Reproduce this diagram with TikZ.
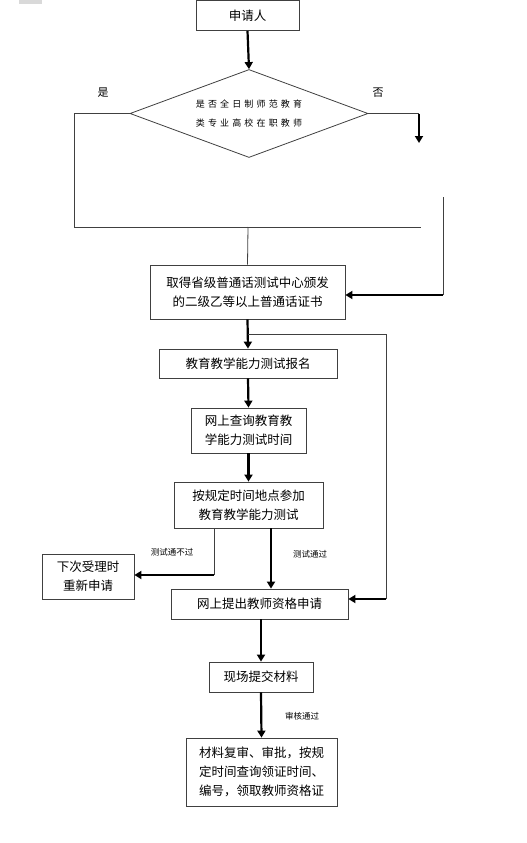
\documentclass[tikz,border=0pt]{standalone}
\usepackage{fontspec}
\setmainfont{Noto Sans CJK SC}
\newfontfamily\dfont[LetterSpace=35]{Noto Sans CJK SC}
\usetikzlibrary{arrows.meta,shapes.geometric}
\begin{document}
\begin{tikzpicture}[x=1pt,y=-1pt,
  box/.style={draw=black!75,line width=0.8pt,fill=white,inner sep=0pt,align=center,font=\fontsize{12.5}{19}\selectfont},
  thin/.style={draw=black!75,line width=0.8pt},
  arr/.style={draw=black,line width=2.2pt,-{Triangle[length=7pt,width=8pt]}},
  lab/.style={font=\fontsize{8.5}{10}\selectfont,inner sep=0pt},
  yn/.style={font=\fontsize{11}{12}\selectfont,inner sep=0pt}]
\useasboundingbox (0,0) rectangle (527,843);
\fill[gray!30] (19,0) rectangle (42,4);
% nodes
\node[box,minimum width=103pt,minimum height=30pt] (b1) at (247.5,15.5) {申请人};
\node[draw=black!75,line width=0.8pt,shape=diamond,shape aspect=2.7,minimum width=238pt,minimum height=88pt,inner sep=0pt,align=center,font=\dfont\fontsize{9}{19}\selectfont] (d) at (249,113.5) {是否全日制师范教育\\类专业高校在职教师};
\node[box,minimum width=195pt,minimum height=54pt] (b2) at (247.5,292) {取得省级普通话测试中心颁发\\的二级乙等以上普通话证书};
\node[box,minimum width=178pt,minimum height=29pt] (b3) at (248,363.5) {教育教学能力测试报名};
\node[box,minimum width=115pt,minimum height=45pt] (b4) at (248.5,430.5) {网上查询教育教\\学能力测试时间};
\node[box,minimum width=149pt,minimum height=46pt] (b5) at (248.5,505) {按规定时间地点参加\\教育教学能力测试};
\node[box,minimum width=92pt,minimum height=45pt] (b6) at (88,576.5) {下次受理时\\重新申请};
\node[box,minimum width=177pt,minimum height=30pt] (b7) at (259.5,604) {网上提出教师资格申请};
\node[box,minimum width=104pt,minimum height=30pt] (b8) at (261,677) {现场提交材料};
\node[box,minimum width=151pt,minimum height=68pt] (b9) at (261.5,772) {材料复审、审批，按规\\定时间查询领证时间、\\编号，领取教师资格证};
% labels
\node[yn] (yes) at (103,93) {是};
\node[yn] (no) at (378,93) {否};
\node[lab] (l1) at (172,552) {测试通不过};
\node[lab] (l2) at (310,554) {测试通过};
\node[lab] (l3) at (302,716) {审核通过};
% coordinates
\coordinate (yl) at (74,113.5);
\coordinate (yb) at (74,227);
\coordinate (hr) at (421,227);
\coordinate (hm) at (248,227);
\coordinate (nr) at (419,113.5);
\coordinate (nd) at (419,143);
\coordinate (rt) at (443,197);
\coordinate (rb) at (443,295);
\coordinate (sp) at (248,334);
\coordinate (sr) at (386,334);
\coordinate (sb) at (386,599);
\coordinate (f1) at (214,528);
\coordinate (f2) at (214,575);
\coordinate (p1) at (271,528);
% connectors
\draw[arr] (b1.south) -- (d.north);
\draw[thin] (d.west) -- (yl) -- (yb) -- (hr);
\draw[thin] (hm) -- (b2.north);
\draw[thin] (d.east) -- (nr);
\draw[arr] (nr) -- (nd);
\draw[thin] (rt) -- (rb);
\draw[arr] (rb) -- (rb -| b2.east);
\draw[arr] (b2.south) -- (b3.north);
\draw[thin] (sp) -- (sr) -- (sb);
\draw[arr] (sb) -- (sb -| b7.east);
\draw[arr] (b3.south) -- (b4.north);
\draw[arr] (b4.south) -- (b5.north);
\draw[thin] (f1) -- (f2);
\draw[arr] (f2) -- (f2 -| b6.east);
\draw[arr] (p1) -- (p1 |- b7.north);
\draw[arr] (b7.south -| b8.north) -- (b8.north);
\draw[arr] (b8.south) -- (b9.north);
\end{tikzpicture}
\end{document}
